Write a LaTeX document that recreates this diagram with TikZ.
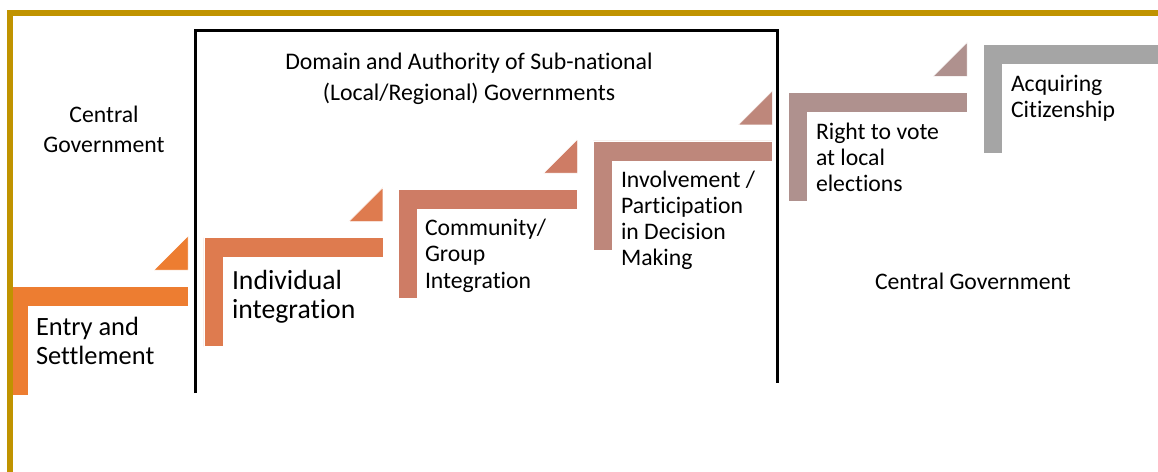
\documentclass[tikz,border=0pt]{standalone}
\usepackage{fontspec}
\setmainfont{Carlito}[Ligatures=NoCommon]
\definecolor{frameGold}{RGB}{192,147,0}
\definecolor{sA}{RGB}{237,125,49}
\definecolor{sB}{RGB}{222,123,79}
\definecolor{sC}{RGB}{206,124,101}
\definecolor{sD}{RGB}{190,135,123}
\definecolor{sE}{RGB}{175,145,142}
\definecolor{sF}{RGB}{165,165,165}
\begin{document}
\begin{tikzpicture}[x=1pt,y=-1pt,
  % multi-line nodes sit on the baseline of their last line
  lbl/.style={inner sep=0pt, outer sep=0pt, align=left, anchor=base west,
    font=\fontsize{23.7}{26.2}\selectfont},
  ctr/.style={inner sep=0pt, outer sep=0pt, align=center, anchor=base},
  stepfill/.style={fill=#1, draw=white, line width=0.5pt}]
\useasboundingbox (0,0) rectangle (1158,471);

% staircase of bent-up steps with their small corner triangles
\foreach \k/\c/\t in {0/sA/sA,1/sB/sB,2/sC/sC,3/sD/sD,4/sE/sE,5/sF/sF} {
  \pgfmathsetmacro\xo{9+194.8*\k}
  \pgfmathsetmacro\yo{286-48.4*\k}
  \path[stepfill=\c] (\xo,\yo) -- ++(179,0) -- ++(0,20) -- ++(-160,0)
     -- ++(0,89) -- ++(-19,0) -- cycle;
  \ifnum\k<5
    \path[stepfill=\t] (\xo+179,\yo-16) -- ++(0,-34) -- ++(-34,34) -- cycle;
  \fi
}

% outer gold frame
\draw[frameGold, line width=5.5pt, line join=miter]
  (10,480) -- (10,13) -- (1170,13);

% sub-national domain box
\draw[black, line width=3pt, line join=miter]
  (195,393) -- (195,30.5) -- (777.5,30.5) -- (777.5,383);

% titles
\node[ctr, font=\fontsize{23.8}{31}\selectfont] (domain) at (469,100)
  {Domain and Authority of Sub-national\\(Local/Regional) Governments};
\node[ctr, font=\fontsize{23.7}{30}\selectfont] (centralL) at (104,152)
  {Central\\Government};
\node[lbl] (centralR) at (875,289) {Central Government};

% step labels
\node[lbl, font=\fontsize{26.4}{29}\selectfont] (entry) at (36,364)
  {Entry and\\Settlement};
\node[lbl, font=\fontsize{27.7}{29}\selectfont] (indiv) at (232,318)
  {Individual\\integration};
\node[lbl, font=\fontsize{23.7}{26.5}\selectfont] (comm) at (425,288)
  {Community/\\Group\\Integration};
\node[lbl, font=\fontsize{23.7}{26}\selectfont] (invol) at (621,265)
  {Involvement /\\Participation\\in Decision\\Making};
\node[lbl, font=\fontsize{23.7}{26}\selectfont] (vote) at (816,191)
  {Right to vote\\at local\\elections};
\node[lbl, font=\fontsize{23.7}{26}\selectfont] (citizen) at (1011,117)
  {Acquiring\\Citizenship};
\end{tikzpicture}
\end{document}
